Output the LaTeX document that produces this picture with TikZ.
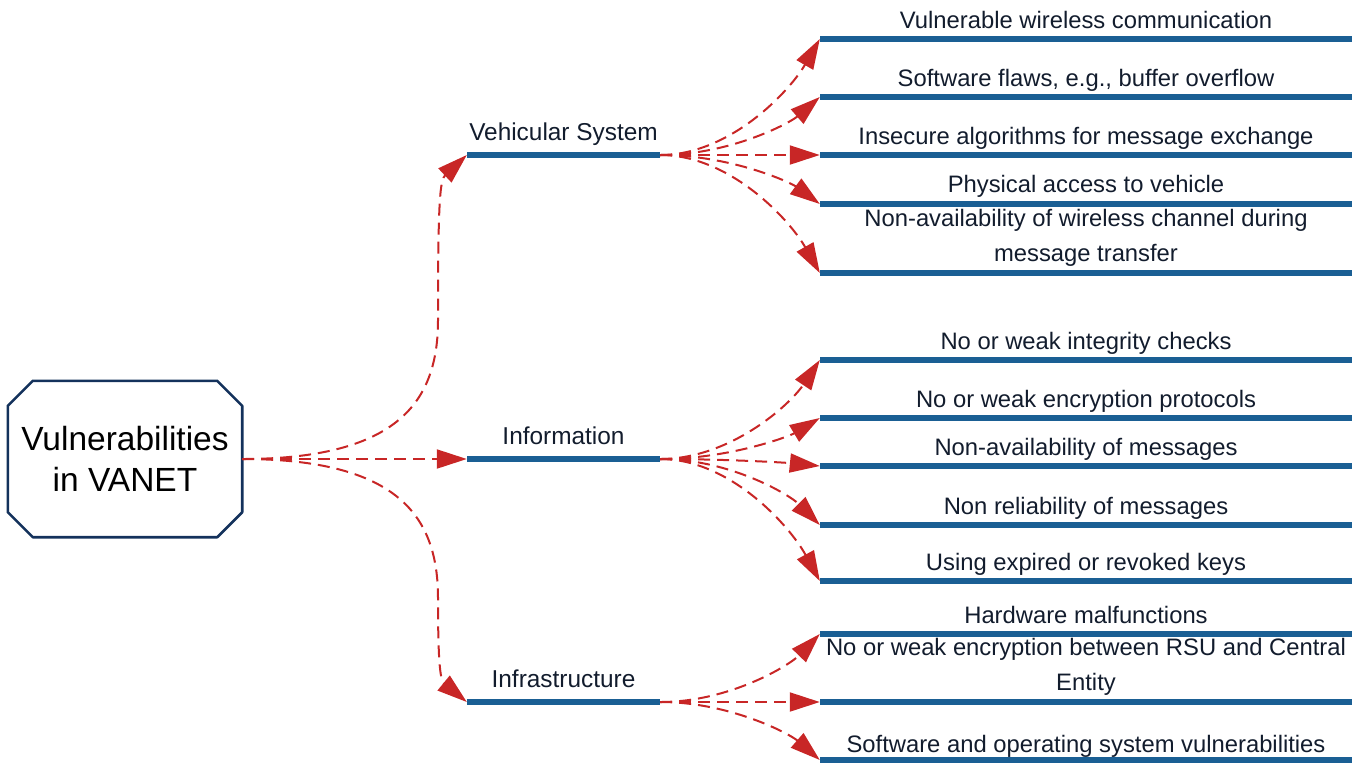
\documentclass[tikz,border=0pt]{standalone}
\usepackage{fontspec}
\setmainfont{Liberation Sans}
\usetikzlibrary{arrows.meta}
\definecolor{barblue}{RGB}{26,95,148}
\definecolor{arrred}{RGB}{200,38,38}
\definecolor{navy}{RGB}{20,50,92}
\definecolor{txt}{RGB}{18,28,45}
\tikzset{
  bar/.style={fill=barblue, draw=none, inner sep=0pt, minimum height=6pt},
  midbar/.style={bar, minimum width=193pt},
  leafbar/.style={bar, minimum width=532pt},
  conn/.style={draw=arrred, line width=2pt, dash pattern=on 12pt off 7pt,
    -{Triangle[length=30pt,width=19pt]}},
  leaftext/.style={font=\fontsize{23.8}{35}\selectfont, text=txt, inner sep=0pt, align=center},
  midtext/.style={font=\fontsize{24.4}{28}\selectfont, text=txt, inner sep=0pt},
}
\begin{document}
\begin{tikzpicture}[x=1pt,y=-1pt]
\useasboundingbox (0,0) rectangle (1357,764);
% root
\node[minimum width=234pt, minimum height=156pt, inner sep=0pt, align=center,
  font=\fontsize{33.5}{41}\selectfont, text=black] (root) at (125,459) {Vulnerabilities\\in VANET};
\draw[navy, line width=2.6pt, line join=round]
  ([xshift=25pt]root.north west) -- ([xshift=-25pt]root.north east)
  -- ([yshift=-25pt]root.north east) -- ([yshift=25pt]root.south east)
  -- ([xshift=-25pt]root.south east) -- ([xshift=25pt]root.south west)
  -- ([yshift=25pt]root.south west) -- ([yshift=-25pt]root.north west) -- cycle;
% mid bars
\node[midbar] (vs) at (563.5,155) {};
\node[midbar] (inf) at (563.5,459) {};
\node[midbar] (ins) at (563.5,702) {};
\node[midtext, anchor=base] (vst) at (563.5,140) {Vehicular System};
\node[midtext, anchor=base] (inft) at (563.5,444) {Information};
\node[midtext, anchor=base] (inst) at (563.5,687) {Infrastructure};
% root connectors
\draw[conn] (root.east) .. controls (400,459) and (438,400) .. (438,320)
  .. controls (438,200) and (440,180) .. (vs.west);
\draw[conn] (root.east) -- (inf.west);
\draw[conn] (root.east) .. controls (400,459) and (438,518) .. (438,598)
  .. controls (438,660) and (440,680) .. (ins.west);
% leaf bars
\foreach \n/\y in {a1/39,a2/97,a3/155,a4/204,a5/273,b1/360,b2/418,b3/466,b4/525,b5/581,c1/634,c2/702,c3/760}
  \node[leafbar] (\n) at (1086,\y) {};
% leaf texts
\node[leaftext, anchor=base] (a1t) at (1086,28) {Vulnerable wireless communication};
\node[leaftext, anchor=base] (a2t) at (1086,86) {Software flaws, e.g., buffer overflow};
\node[leaftext, anchor=base] (a3t) at (1086,144) {Insecure algorithms for message exchange};
\node[leaftext, anchor=base] (a4t) at (1086,192) {Physical access to vehicle};
\node[leaftext, anchor=south] (a5t) at (1086,267) {Non-availability of wireless channel during\\message transfer};
\node[leaftext, anchor=base] (b1t) at (1086,349) {No or weak integrity checks};
\node[leaftext, anchor=base] (b2t) at (1086,407) {No or weak encryption protocols};
\node[leaftext, anchor=base] (b3t) at (1086,455) {Non-availability of messages};
\node[leaftext, anchor=base] (b4t) at (1086,514) {Non reliability of messages};
\node[leaftext, anchor=base] (b5t) at (1086,570) {Using expired or revoked keys};
\node[leaftext, anchor=base] (c1t) at (1086,623) {Hardware malfunctions};
\node[leaftext, anchor=south] (c2t) at (1086,696) {No or weak encryption between RSU and Central\\Entity};
\node[leaftext, anchor=base] (c3t) at (1086,752) {Software and operating system vulnerabilities};
% leaf connectors
\draw[conn] (vs.east) .. controls +(70,0) and +(-30,52) .. (a1.west);
\draw[conn] (vs.east) .. controls +(70,0) and +(-30,26) .. (a2.west);
\draw[conn] (vs.east) -- (a3.west);
\draw[conn] (vs.east) .. controls +(70,0) and +(-30,-22) .. (a4.west);
\draw[conn] (vs.east) .. controls +(70,0) and +(-30,-53) .. (a5.west);
\draw[conn] (inf.east) .. controls +(70,0) and +(-30,45) .. (b1.west);
\draw[conn] (inf.east) .. controls +(70,0) and +(-30,18) .. (b2.west);
\draw[conn] (inf.east) .. controls +(70,0) and +(-30,-3) .. (b3.west);
\draw[conn] (inf.east) .. controls +(70,0) and +(-30,-30) .. (b4.west);
\draw[conn] (inf.east) .. controls +(70,0) and +(-30,-55) .. (b5.west);
\draw[conn] (ins.east) .. controls +(70,0) and +(-30,31) .. (c1.west);
\draw[conn] (ins.east) -- (c2.west);
\draw[conn] (ins.east) .. controls +(70,0) and +(-30,-26) .. (c3.west);
\end{tikzpicture}
\end{document}
